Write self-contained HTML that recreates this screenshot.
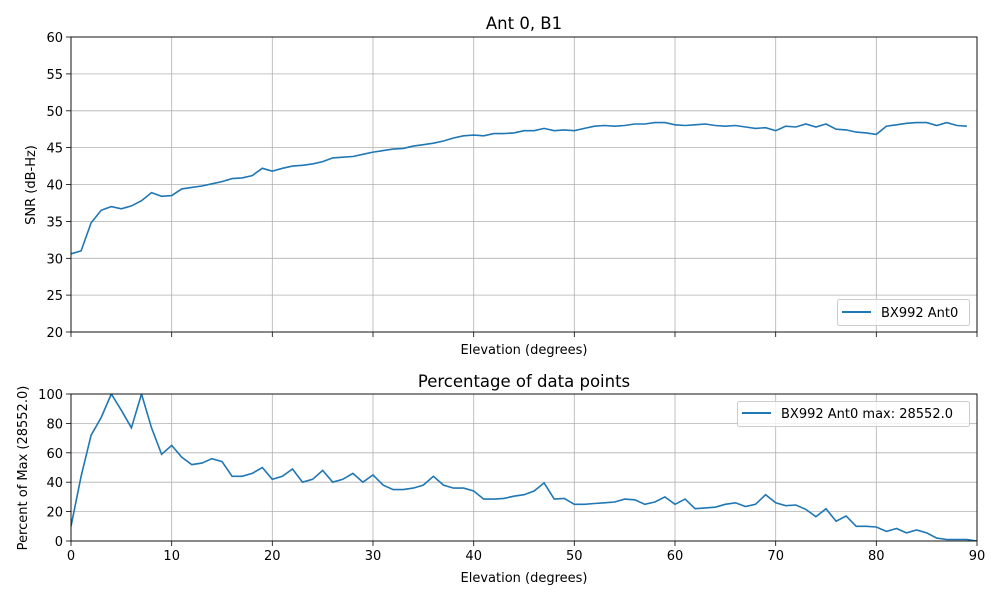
<!DOCTYPE html>
<html><head><meta charset="utf-8"><style>
html,body{margin:0;padding:0;background:#fff}
svg{display:block;font-family:"DejaVu Sans","Liberation Sans",sans-serif}
</style></head><body>
<svg id="s" width="1000" height="600" viewBox="0 0 1000 600" xmlns="http://www.w3.org/2000/svg">
<rect width="1000" height="600" fill="#fff"/>
<g id="g"></g>
<text x="524" y="29" font-size="16.5" text-anchor="middle">Ant 0, B1</text>
<text x="524" y="387" font-size="16.5" text-anchor="middle">Percentage of data points</text>
<text x="524" y="354" font-size="13" text-anchor="middle">Elevation (degrees)</text>
<text x="524" y="582" font-size="13" text-anchor="middle">Elevation (degrees)</text>
<text transform="translate(35,185) rotate(-90)" font-size="13" text-anchor="middle">SNR (dB-Hz)</text>
<text transform="translate(27,468) rotate(-90)" font-size="13" text-anchor="middle">Percent of Max (28552.0)</text>
<rect x="837.5" y="299.5" width="132" height="26" rx="2" fill="#fff" fill-opacity="0.8" stroke="#ccc"/>
<line x1="842" y1="312" x2="871" y2="312" stroke="#1f77b4" stroke-width="2"/>
<text x="881" y="317" font-size="13">BX992 Ant0</text>
<rect x="737.5" y="401.5" width="232" height="25" rx="2" fill="#fff" fill-opacity="0.8" stroke="#ccc"/>
<line x1="742" y1="413" x2="771" y2="413" stroke="#1f77b4" stroke-width="2"/>
<text x="781" y="418" font-size="13">BX992 Ant0 max: 28552.0</text>
</svg>
<script>
(function(){
var snr=[30.6,31,34.8,36.5,37,36.7,37.1,37.8,38.9,38.4,38.5,39.4,39.6,39.8,40.1,40.4,40.8,40.9,41.2,42.2,41.8,42.2,42.5,42.6,42.8,43.1,43.6,43.7,43.8,44.1,44.4,44.6,44.8,44.9,45.2,45.4,45.6,45.9,46.3,46.6,46.7,46.6,46.9,46.9,47,47.3,47.3,47.6,47.3,47.4,47.3,47.6,47.9,48,47.9,48,48.2,48.2,48.4,48.4,48.1,48.0,48.1,48.2,48.0,47.9,48.0,47.8,47.6,47.7,47.3,47.9,47.8,48.2,47.8,48.2,47.5,47.4,47.1,47,46.8,47.9,48.1,48.3,48.4,48.4,48,48.4,48,47.9];
var pct=[10,44,72,84,100,89,77,100,77,59,65,57,52,53,56,54,44,44,46,50,42,44,49,40,42,48,40,42,46,40,45,38,35,35,36,38,44,38,36,36,34,28.5,28.5,29,30.5,31.5,34,39.5,28.5,29,25,25,25.5,26,26.5,28.5,28,25,26.5,30,25,28.5,22,22.5,23,25,26,23.5,25,31.5,26,24,24.5,21.5,16.5,22,13.5,17,10,10,9.5,6.5,8.5,5.5,7.5,5.5,2,1,1,1,0];
var L=71,R=977,T1=37,B1=332,T2=394,B2=541,h='';
function X(d){return L+(R-L)*d/90}
for(var i=0;i<=90;i+=10){var x=X(i).toFixed(1);
h+='<line x1="'+x+'" y1="'+T1+'" x2="'+x+'" y2="'+B1+'" stroke="#b0b0b0" stroke-width="0.8"/>';
h+='<line x1="'+x+'" y1="'+T2+'" x2="'+x+'" y2="'+B2+'" stroke="#b0b0b0" stroke-width="0.8"/>';
h+='<line x1="'+x+'" y1="'+B1+'" x2="'+x+'" y2="'+(B1+5)+'" stroke="#000" stroke-width="0.8"/>';
h+='<line x1="'+x+'" y1="'+B2+'" x2="'+x+'" y2="'+(B2+5)+'" stroke="#000" stroke-width="0.8"/>';
h+='<text x="'+x+'" y="'+(B2+19)+'" font-size="13" text-anchor="middle">'+i+'</text>';}
for(var v=20;v<=60;v+=5){var y=(B1-(v-20)*(B1-T1)/40).toFixed(1);
h+='<line x1="'+L+'" y1="'+y+'" x2="'+R+'" y2="'+y+'" stroke="#b0b0b0" stroke-width="0.8"/>';
h+='<line x1="'+(L-5)+'" y1="'+y+'" x2="'+L+'" y2="'+y+'" stroke="#000" stroke-width="0.8"/>';
h+='<text x="'+(L-8)+'" y="'+(+y+5)+'" font-size="13" text-anchor="end">'+v+'</text>';}
for(var v=0;v<=100;v+=20){var y=(B2-v*(B2-T2)/100).toFixed(1);
h+='<line x1="'+L+'" y1="'+y+'" x2="'+R+'" y2="'+y+'" stroke="#b0b0b0" stroke-width="0.8"/>';
h+='<line x1="'+(L-5)+'" y1="'+y+'" x2="'+L+'" y2="'+y+'" stroke="#000" stroke-width="0.8"/>';
h+='<text x="'+(L-8)+'" y="'+(+y+5)+'" font-size="13" text-anchor="end">'+v+'</text>';}
var p=snr.map(function(v,i){return X(i).toFixed(1)+','+(B1-(v-20)*(B1-T1)/40).toFixed(1)}).join(' ');
h+='<polyline points="'+p+'" fill="none" stroke="#1f77b4" stroke-width="1.6"/>';
p=pct.map(function(v,i){return X(i).toFixed(1)+','+(B2-v*(B2-T2)/100).toFixed(1)}).join(' ');
h+='<svg x="'+L+'" y="'+T2+'" width="'+(R-L)+'" height="'+(B2-T2)+'" viewBox="'+L+' '+T2+' '+(R-L)+' '+(B2-T2)+'" overflow="hidden"><polyline points="'+p+'" fill="none" stroke="#1f77b4" stroke-width="1.6"/></svg>';
h+='<rect x="'+L+'" y="'+T1+'" width="'+(R-L)+'" height="'+(B1-T1)+'" fill="none" stroke="#000" stroke-width="0.9"/>';
h+='<rect x="'+L+'" y="'+T2+'" width="'+(R-L)+'" height="'+(B2-T2)+'" fill="none" stroke="#000" stroke-width="0.9"/>';
document.getElementById('g').innerHTML=h;
})();
</script>
</body></html>
